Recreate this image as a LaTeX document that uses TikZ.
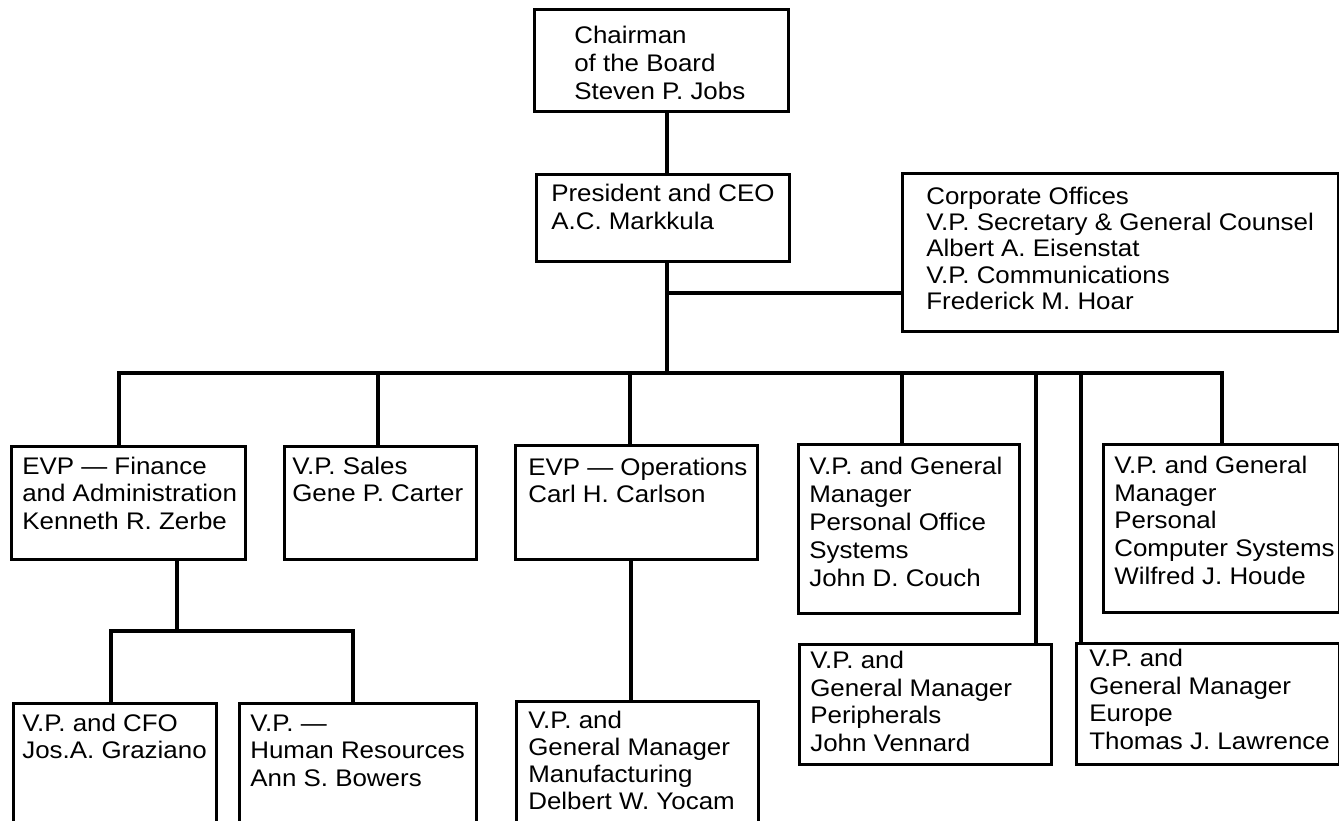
\documentclass[tikz,border=0pt]{standalone}
\usepackage{fontspec}
\newfontfamily\orgfont{Liberation Sans}[FakeStretch=1.08]
\hbadness=10000 \hfuzz=60pt \vfuzz=60pt
% box text: width, height, left pad, first baseline, line skip, lines
\newcommand{\orgtext}[6]{\parbox[t][#2][t]{#1}{\orgfont\fontsize{24}{#5}\selectfont
  \raggedright\leftskip=#3\relax\rule{0pt}{#4}\ignorespaces #6}}
\tikzset{
  orgbox/.style={draw, line width=2.6pt, rectangle, anchor=north west, inner sep=0pt},
  link/.style={line width=3.2pt, line cap=rect, line join=miter}
}
\begin{document}
\begin{tikzpicture}[x=1pt, y=-1pt]
\useasboundingbox (0,0) rectangle (1339,820);
\fill[white] (0,0) rectangle (1339,820);
\clip (0,0) rectangle (1339,820);

% top of the chart
\node[orgbox] (chair) at (533,8) {\orgtext{254pt}{102pt}{40pt}{34pt}{28pt}{Chairman\\of the Board\\Steven P. Jobs}};
\node[orgbox] (pres) at (535,173) {\orgtext{253pt}{87pt}{15pt}{27pt}{28pt}{President and CEO\\A.C. Markkula}};
\node[orgbox] (corp) at (901,172) {\orgtext{436pt}{158pt}{24pt}{31pt}{26.3pt}{Corporate Offices\\V.P. Secretary \& General Counsel\\Albert A. Eisenstat\\V.P. Communications\\Frederick M. Hoar}};

% second level
\node[orgbox] (fin) at (10,445) {\orgtext{234pt}{113pt}{11pt}{28pt}{27.5pt}{EVP — Finance\\and Administration\\Kenneth R. Zerbe}};
\node[orgbox] (sales) at (283,445) {\orgtext{192pt}{113pt}{8pt}{28pt}{27.5pt}{V.P. Sales\\Gene P. Carter}};
\node[orgbox] (ops) at (514,444) {\orgtext{242pt}{114pt}{13pt}{30pt}{27.5pt}{EVP — Operations\\Carl H. Carlson}};
\node[orgbox] (pof) at (797,443) {\orgtext{221pt}{169pt}{11pt}{30pt}{28pt}{V.P. and General\\Manager\\Personal Office\\Systems\\John D. Couch}};
\node[orgbox] (pcs) at (1102,443) {\orgtext{236pt}{168pt}{11pt}{29pt}{27.7pt}{V.P. and General\\Manager\\Personal\\Computer Systems\\Wilfred J. Houde}};
\node[orgbox] (peri) at (798,643) {\orgtext{252pt}{120pt}{11pt}{24pt}{27.7pt}{V.P. and\\General Manager\\Peripherals\\John Vennard}};
\node[orgbox] (eur) at (1075,642) {\orgtext{263pt}{121pt}{13pt}{23pt}{27.7pt}{V.P. and\\General Manager\\Europe\\Thomas J. Lawrence}};

% third level
\node[orgbox] (cfo) at (12,702) {\orgtext{203pt}{140pt}{9pt}{28pt}{27.5pt}{V.P. and CFO\\Jos.A. Graziano}};
\node[orgbox] (hr) at (238,702) {\orgtext{237pt}{140pt}{11pt}{28pt}{27.5pt}{V.P. —\\Human Resources\\Ann S. Bowers}};
\node[orgbox] (mfg) at (515,700) {\orgtext{242pt}{142pt}{12pt}{27pt}{27pt}{V.P. and\\General Manager\\Manufacturing\\Delbert W. Yocam}};

% junction points
\coordinate (trunk) at (667,373);
\coordinate (corpj) at (667,293);
\coordinate (dfin) at (119,373);
\coordinate (dsales) at (378,373);
\coordinate (dops) at (630,373);
\coordinate (dpof) at (902,373);
\coordinate (dperi) at (1036,373);
\coordinate (deur) at (1081,373);
\coordinate (dpcs) at (1222,373);
\coordinate (subj) at (177,631);
\coordinate (dcfo) at (111,631);
\coordinate (dhr) at (353,631);
\coordinate (dmfg) at (631,600);

% connectors
\draw[link] (chair.south -| trunk) -- (pres.north -| trunk);
\draw[link] (pres.south -| trunk) -- (trunk);
\draw[link] (corpj) -- (corpj -| corp.west);
\draw[link] (dfin |- fin.north) -- (dfin) -- (dpcs) -- (dpcs |- pcs.north);
\draw[link] (dsales) -- (dsales |- sales.north);
\draw[link] (dops) -- (dops |- ops.north);
\draw[link] (dpof) -- (dpof |- pof.north);
\draw[link] (dperi) -- (dperi |- peri.north);
\draw[link] (deur) -- (deur |- eur.north);
\draw[link] (subj |- fin.south) -- (subj);
\draw[link] (dcfo |- cfo.north) -- (dcfo) -- (dhr) -- (dhr |- hr.north);
\draw[link] (ops.south -| dmfg) -- (mfg.north -| dmfg);
\end{tikzpicture}
\end{document}
